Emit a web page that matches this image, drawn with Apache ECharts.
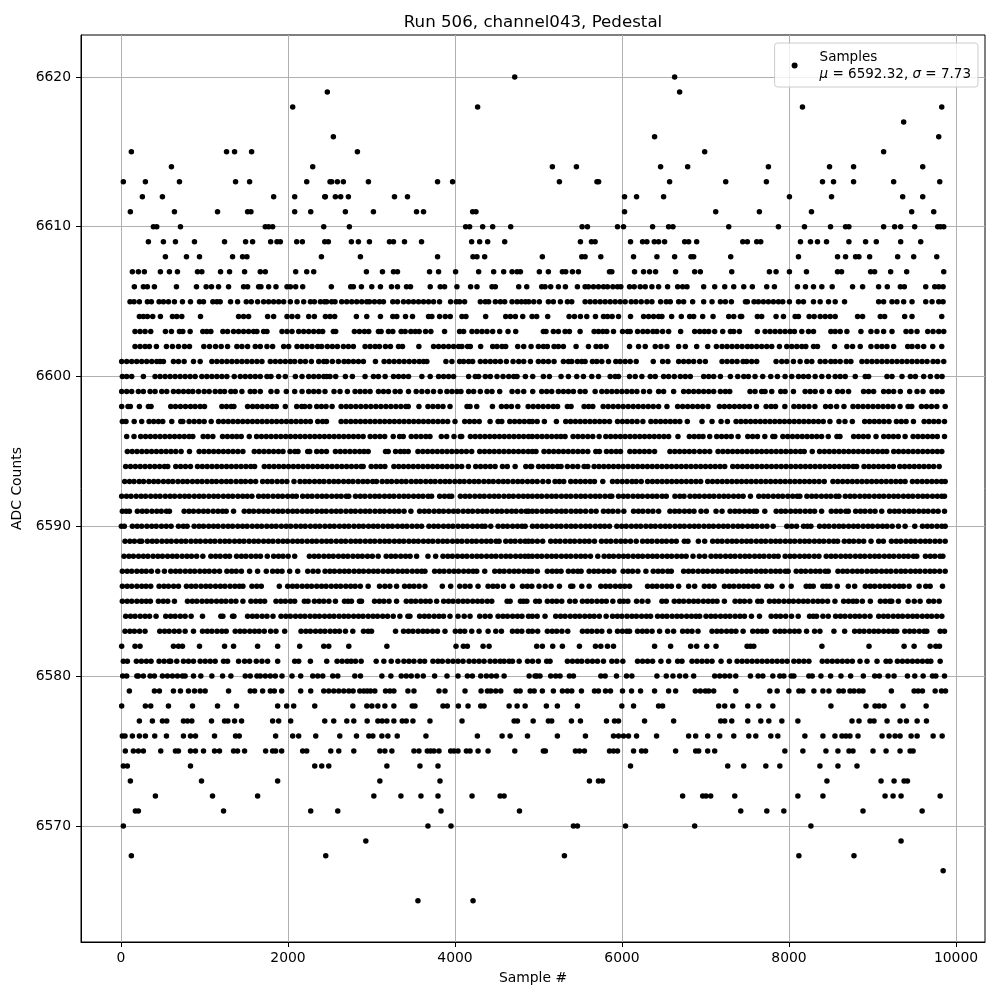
<!DOCTYPE html>
<html>
<head>
<meta charset="utf-8">
<title>Run 506, channel043, Pedestal</title>
<script src="https://cdn.jsdelivr.net/npm/echarts@6/dist/echarts.min.js"></script>
<style>
  html, body { margin: 0; padding: 0; background: #fff; }
  #chart { width: 1000px; height: 1000px; }
</style>
</head>
<body>
<div id="chart"></div>
<script>
// tick labels
const xTicks = [0, 2000, 4000, 6000, 8000, 10000];
const yTicks = [6570, 6580, 6590, 6600, 6610, 6620];

// sample numbers, one list per ADC level
const row6620 = [4715, 6630];
const row6619 = [2471, 6690];
const row6618 = [2056, 4271, 8161, 9829];
const row6617 = [9373];
const row6616 = [2543, 6390, 9793];
const row6615 = [124, 1264, 1360, 1564, 2831, 6990, 9133];
const row6614 = [604, 2296, 5166, 5454, 6462, 6786, 7753, 8485, 8773, 9601];
const row6613 = [28, 292, 700, 1372, 1540, 2224, 2503, 2523, 2591, 2663, 2963, 3791, 3971, 5250, 5700, 5720, 6570, 7242, 7729, 8401, 8533, 8773, 9253, 9805];
const row6612 = [256, 496, 1828, 2080, 2440, 2447, 2567, 2631, 2723, 3275, 3431, 6030, 6174, 6498, 8005, 8509, 9361, 9601];
const row6611 = [112, 640, 1156, 1516, 1556, 2080, 2272, 2687, 3023, 3539, 3623, 4211, 4251, 6030, 7122, 7645, 8269, 9469, 9733];
const row6610 = [388, 428, 712, 1728, 1768, 1816, 2428, 2735, 4127, 4175, 4331, 4451, 4667, 5522, 5586, 5946, 6018, 6366, 6558, 6610, 7278, 7873, 8185, 8497, 8677, 8717, 9133, 9265, 9337, 9505, 9781, 9813, 9853];
const row6609 = [328, 508, 652, 880, 1240, 1492, 1576, 1792, 1868, 1908, 2104, 2172, 2440, 2483, 2759, 2843, 2975, 3215, 3263, 3395, 3599, 4199, 4295, 4391, 4595, 5502, 5634, 5678, 6102, 6246, 6298, 6386, 6438, 6510, 6750, 6798, 6894, 7446, 7501, 7613, 7661, 8137, 8257, 8341, 8449, 8717, 8917, 9045, 9337, 9577];
const row6608 = [532, 784, 940, 1336, 1456, 1508, 2400, 2867, 3791, 4215, 4263, 4355, 5046, 5518, 5558, 5746, 6138, 6418, 6630, 6826, 6858, 7302, 8113, 8581, 8677, 8797, 8837, 8965, 9301, 9493, 9769];
const row6607 = [136, 208, 280, 472, 580, 676, 916, 968, 1192, 1300, 1480, 1668, 1728, 2092, 2224, 2308, 2939, 3131, 3263, 3311, 3695, 3803, 4007, 4283, 4463, 4583, 4683, 4743, 4783, 5010, 5118, 5286, 5326, 5406, 5478, 5850, 5878, 6150, 6258, 6330, 6402, 6642, 6870, 6938, 7314, 7765, 7845, 8005, 8209, 8581, 8629, 8977, 9025, 9217, 9409, 9853];
const row6606 = [160, 268, 316, 400, 664, 904, 1020, 1084, 1168, 1288, 1468, 1516, 1648, 1676, 1768, 1856, 1988, 2028, 2092, 2176, 2519, 2751, 2783, 2879, 3003, 3107, 3239, 3311, 3419, 3467, 3703, 3823, 3875, 4023, 4187, 4263, 4443, 4483, 4763, 4859, 5038, 5078, 5146, 5238, 5322, 5466, 5558, 5598, 5658, 5718, 5778, 5826, 5890, 5946, 5986, 6090, 6146, 6218, 6278, 6358, 6438, 6546, 6666, 6726, 6778, 6978, 7110, 7230, 7338, 7458, 7561, 7733, 7825, 8101, 8197, 8293, 8393, 8517, 8761, 8881, 9073, 9177, 9333, 9381, 9637, 9745, 9793, 9845];
const row6605 = [108, 156, 220, 316, 364, 456, 508, 568, 640, 736, 832, 940, 988, 1100, 1148, 1188, 1312, 1396, 1500, 1560, 1636, 1708, 1768, 1828, 1888, 1948, 2028, 2108, 2188, 2268, 2316, 2388, 2436, 2463, 2523, 2563, 2643, 2703, 2763, 2823, 2883, 2943, 2975, 3035, 3095, 3143, 3255, 3311, 3383, 3443, 3503, 3563, 3623, 3683, 3743, 3815, 3947, 4015, 4055, 4115, 4303, 4363, 4403, 4483, 4543, 4595, 4683, 4743, 4795, 4843, 4883, 4943, 5010, 5118, 5178, 5262, 5346, 5398, 5558, 5618, 5678, 5738, 5798, 5858, 5918, 5978, 6038, 6110, 6166, 6230, 6298, 6358, 6462, 6530, 6578, 6678, 6738, 6846, 6978, 7078, 7178, 7238, 7310, 7478, 7501, 7581, 7633, 7693, 7753, 7813, 7873, 7925, 8005, 8113, 8173, 8293, 8373, 8473, 8553, 8665, 9073, 9133, 9233, 9293, 9373, 9473, 9637, 9713, 9793, 9845];
const row6604 = [220, 268, 316, 380, 472, 616, 668, 728, 952, 1408, 1468, 1528, 1756, 1828, 1988, 2048, 2116, 2248, 2316, 2448, 2503, 2559, 2819, 2943, 3107, 3255, 3303, 3407, 3491, 3683, 3723, 3815, 3883, 3943, 4083, 4131, 4367, 4607, 4663, 4723, 4811, 4923, 4978, 5110, 5366, 5430, 5502, 5578, 5682, 5778, 5826, 5882, 5958, 6102, 6258, 6318, 6378, 6438, 6478, 6594, 6710, 6810, 6858, 6966, 7090, 7278, 7338, 7418, 7433, 7621, 7673, 7845, 7933, 8073, 8113, 8241, 8301, 8373, 8433, 8493, 8553, 8821, 8881, 9093, 9145, 9385, 9473, 9829];
const row6603 = [168, 228, 288, 356, 532, 604, 700, 740, 828, 980, 1028, 1076, 1220, 1276, 1348, 1408, 1468, 1528, 1588, 1628, 1708, 1748, 1928, 1988, 2048, 2128, 2188, 2248, 2308, 2368, 2415, 2543, 2571, 2795, 2855, 2915, 2967, 3083, 3115, 3203, 3255, 3355, 3403, 3471, 3523, 3571, 3647, 3711, 3875, 4055, 4103, 4203, 4263, 4323, 4383, 4451, 4535, 4635, 4727, 5058, 5090, 5178, 5238, 5318, 5370, 5498, 5666, 5718, 5770, 5818, 5898, 6006, 6066, 6098, 6186, 6250, 6306, 6370, 6418, 6486, 6558, 6702, 6870, 6930, 6986, 7038, 7110, 7206, 7298, 7338, 7406, 7621, 7713, 7773, 7833, 7893, 7953, 8013, 8065, 8153, 8233, 8293, 8501, 8553, 8613, 8693, 8861, 8981, 9053, 9133, 9233, 9401, 9461, 9533, 9661, 9725, 9793, 9853];
const row6602 = [168, 228, 288, 340, 424, 544, 616, 688, 760, 820, 992, 1060, 1132, 1200, 1276, 1388, 1448, 1516, 1608, 1668, 1748, 1816, 1948, 2008, 2108, 2168, 2228, 2288, 2356, 2403, 2471, 2531, 2591, 2663, 2723, 2783, 2923, 2983, 3043, 3095, 3167, 3227, 3323, 3371, 3567, 3743, 3803, 3863, 3923, 3983, 4043, 4083, 4151, 4183, 4307, 4451, 4503, 4563, 4607, 4751, 4823, 4911, 4998, 5058, 5106, 5186, 5238, 5298, 5450, 5598, 5690, 5746, 5810, 6090, 6198, 6278, 6398, 6466, 6538, 6678, 6758, 6894, 7026, 7130, 7198, 7258, 7318, 7378, 7438, 7501, 7553, 7613, 7673, 7733, 7793, 7885, 7973, 8033, 8093, 8153, 8201, 8293, 8341, 8545, 8693, 8761, 8853, 8981, 9053, 9113, 9173, 9253, 9421, 9473, 9541, 9613, 9721, 9829];
const row6601 = [8, 68, 128, 188, 248, 308, 368, 428, 468, 508, 628, 688, 756, 868, 948, 1088, 1148, 1208, 1268, 1328, 1388, 1448, 1508, 1568, 1628, 1688, 1788, 1848, 1908, 1968, 2028, 2080, 2148, 2208, 2280, 2368, 2428, 2463, 2531, 2603, 2671, 2723, 2783, 2843, 2903, 3047, 3151, 3211, 3271, 3331, 3391, 3451, 3511, 3571, 3623, 3663, 3891, 3963, 4055, 4103, 4163, 4211, 4303, 4363, 4423, 4483, 4543, 4615, 4695, 4763, 4823, 4903, 4998, 5058, 5118, 5186, 5298, 5358, 5398, 5466, 5518, 5558, 5646, 5698, 5758, 5838, 5926, 5978, 6038, 6098, 6170, 6374, 6486, 6550, 6678, 6738, 6798, 6858, 6930, 6998, 7198, 7258, 7318, 7378, 7450, 7493, 7553, 7613, 7845, 7913, 7973, 8053, 8133, 8213, 8273, 8373, 8433, 8501, 8553, 8613, 8685, 8741, 8873, 8933, 8993, 9053, 9113, 9173, 9233, 9293, 9353, 9413, 9473, 9533, 9593, 9653, 9725, 9781, 9853];
const row6600 = [16, 68, 128, 268, 408, 468, 528, 588, 648, 708, 768, 828, 888, 968, 1028, 1088, 1148, 1208, 1268, 1356, 1428, 1488, 1548, 1608, 1668, 1748, 1796, 1888, 1968, 2088, 2168, 2248, 2308, 2368, 2428, 2463, 2503, 2571, 2687, 2771, 2923, 3023, 3083, 3163, 3263, 3323, 3383, 3443, 3603, 3703, 3803, 3863, 3923, 3983, 4163, 4243, 4283, 4363, 4423, 4503, 4575, 4643, 4703, 4743, 4843, 4931, 5058, 5130, 5270, 5358, 5458, 5538, 5638, 5718, 5858, 5918, 5958, 6090, 6158, 6238, 6338, 6398, 6498, 6558, 6626, 6698, 6758, 6818, 6978, 7038, 7098, 7178, 7298, 7386, 7458, 7513, 7593, 7685, 7781, 7861, 7953, 8033, 8113, 8173, 8233, 8313, 8393, 8473, 8553, 8613, 8673, 8793, 8913, 8953, 9173, 9233, 9353, 9453, 9513, 9613, 9693, 9773, 9833];
const row6599 = [8, 68, 128, 208, 268, 348, 408, 488, 548, 628, 688, 748, 808, 860, 928, 996, 1056, 1128, 1188, 1240, 1316, 1368, 1448, 1548, 1600, 1668, 1796, 1868, 1980, 2080, 2168, 2248, 2308, 2368, 2443, 2551, 2623, 2711, 2803, 2863, 2923, 2983, 3083, 3143, 3203, 3283, 3343, 3443, 3535, 3603, 3671, 3743, 3823, 3903, 3963, 4023, 4071, 4163, 4223, 4303, 4383, 4443, 4535, 4683, 4751, 4823, 4931, 5038, 5098, 5158, 5238, 5298, 5358, 5418, 5498, 5558, 5678, 5758, 5818, 5878, 5938, 5998, 6058, 6118, 6178, 6258, 6330, 6438, 6498, 6618, 6738, 6798, 6858, 6918, 6978, 7038, 7098, 7178, 7238, 7290, 7533, 7593, 7673, 7713, 7793, 7901, 7953, 8053, 8193, 8253, 8313, 8393, 8485, 8581, 8641, 8713, 8893, 8953, 9013, 9133, 9193, 9253, 9333, 9445, 9533, 9605, 9713, 9773, 9833];
const row6598 = [8, 84, 112, 220, 328, 360, 596, 652, 712, 772, 832, 888, 948, 1000, 1208, 1264, 1320, 1352, 1516, 1576, 1632, 1692, 1752, 1812, 1860, 1968, 2104, 2164, 2200, 2260, 2344, 2400, 2456, 2528, 2636, 2696, 2752, 2812, 2872, 2932, 2992, 3052, 3112, 3172, 3232, 3292, 3352, 3412, 3440, 3568, 3676, 3736, 3796, 3856, 3940, 4144, 4180, 4260, 4448, 4556, 4616, 4676, 4752, 4876, 4936, 4996, 5056, 5116, 5176, 5228, 5346, 5390, 5546, 5600, 5650, 5774, 5834, 5894, 5954, 6014, 6074, 6134, 6194, 6254, 6314, 6374, 6438, 6538, 6666, 6726, 6786, 6846, 6906, 6966, 7030, 7166, 7226, 7286, 7346, 7406, 7466, 7526, 7610, 7726, 7786, 7838, 7950, 8058, 8118, 8178, 8238, 8310, 8438, 8498, 8570, 8658, 8766, 8826, 8886, 8946, 9006, 9066, 9126, 9186, 9246, 9330, 9426, 9470, 9586, 9646, 9706, 9770, 9870];
const row6597 = [16, 60, 158, 248, 336, 392, 448, 500, 608, 716, 740, 816, 876, 936, 996, 1080, 1168, 1226, 1284, 1342, 1400, 1458, 1516, 1574, 1632, 1690, 1748, 1806, 1864, 1922, 1980, 2038, 2096, 2154, 2212, 2268, 2356, 2414, 2460, 2636, 2694, 2752, 2810, 2868, 2926, 2984, 3042, 3100, 3158, 3216, 3274, 3332, 3390, 3448, 3506, 3564, 3622, 3680, 3738, 3796, 3854, 3912, 4000, 4116, 4174, 4232, 4290, 4420, 4516, 4560, 4656, 4714, 4772, 4830, 4888, 4926, 4984, 5070, 5214, 5326, 5384, 5442, 5500, 5558, 5616, 5674, 5732, 5790, 5850, 5946, 6004, 6062, 6120, 6180, 6250, 6346, 6404, 6462, 6520, 6578, 6636, 6692, 6782, 6958, 7078, 7186, 7262, 7366, 7424, 7482, 7540, 7598, 7656, 7714, 7772, 7830, 7888, 7946, 8004, 8062, 8120, 8178, 8236, 8294, 8352, 8410, 8490, 8598, 8670, 8758, 8906, 8964, 9022, 9080, 9138, 9198, 9286, 9344, 9402, 9490, 9618, 9676, 9734, 9792, 9862];
const row6596 = [68, 156, 236, 294, 352, 410, 468, 526, 584, 642, 700, 758, 816, 860, 984, 1040, 1100, 1216, 1274, 1332, 1386, 1440, 1536, 1624, 1682, 1740, 1798, 1856, 1914, 1972, 2030, 2088, 2146, 2204, 2262, 2320, 2378, 2436, 2494, 2552, 2610, 2668, 2726, 2784, 2842, 2900, 2984, 3042, 3100, 3158, 3260, 3336, 3380, 3476, 3534, 3592, 3650, 3700, 3836, 3900, 3988, 4064, 4080, 4184, 4242, 4300, 4358, 4416, 4474, 4532, 4590, 4648, 4706, 4764, 4822, 4880, 4926, 4984, 5042, 5100, 5158, 5216, 5268, 5318, 5414, 5472, 5530, 5590, 5650, 5726, 5806, 5864, 5922, 5980, 6038, 6096, 6154, 6212, 6270, 6328, 6386, 6444, 6502, 6558, 6670, 6806, 6864, 6920, 6970, 7050, 7134, 7192, 7250, 7308, 7390, 7506, 7564, 7622, 7710, 7806, 7830, 7926, 7984, 8042, 8100, 8158, 8216, 8274, 8332, 8390, 8470, 8574, 8610, 8774, 8832, 8890, 8948, 9042, 9134, 9192, 9250, 9308, 9390, 9486, 9544, 9602, 9660, 9718, 9776, 9862];
const row6595 = [76, 134, 192, 250, 308, 366, 424, 482, 540, 598, 656, 720, 820, 936, 994, 1052, 1110, 1168, 1226, 1284, 1342, 1400, 1460, 1596, 1654, 1712, 1770, 1828, 1886, 1940, 2024, 2082, 2120, 2236, 2260, 2344, 2402, 2460, 2568, 2626, 2684, 2742, 2800, 2858, 2910, 2960, 3168, 3200, 3288, 3346, 3392, 3440, 3556, 3614, 3672, 3730, 3788, 3846, 3904, 3962, 4020, 4078, 4136, 4200, 4296, 4354, 4412, 4470, 4528, 4586, 4644, 4702, 4760, 4818, 4876, 4926, 4970, 5066, 5124, 5182, 5240, 5298, 5356, 5414, 5472, 5530, 5590, 5686, 5730, 5814, 5872, 5930, 5982, 6094, 6152, 6210, 6268, 6326, 6390, 6574, 6632, 6690, 6748, 6806, 6864, 6930, 6990, 7050, 7150, 7208, 7266, 7324, 7382, 7440, 7498, 7556, 7614, 7672, 7730, 7788, 7846, 7904, 7962, 8020, 8078, 8136, 8182, 8278, 8366, 8424, 8482, 8540, 8598, 8656, 8714, 8772, 8830, 8888, 8946, 9004, 9062, 9120, 9170, 9254, 9312, 9370, 9428, 9486, 9544, 9602, 9660, 9718, 9776, 9830];
const row6594 = [56, 114, 172, 230, 288, 346, 404, 462, 520, 560, 656, 714, 772, 832, 916, 974, 1032, 1090, 1148, 1206, 1264, 1322, 1380, 1438, 1496, 1554, 1600, 1716, 1774, 1832, 1890, 1948, 2006, 2064, 2122, 2180, 2238, 2296, 2354, 2412, 2470, 2528, 2586, 2644, 2702, 2760, 2818, 2876, 2900, 2996, 3054, 3108, 3160, 3268, 3326, 3384, 3442, 3500, 3558, 3616, 3674, 3732, 3790, 3848, 3906, 3964, 4022, 4080, 4160, 4248, 4306, 4364, 4422, 4480, 4568, 4626, 4720, 4848, 4906, 4918, 5000, 5058, 5116, 5170, 5228, 5270, 5346, 5410, 5470, 5546, 5590, 5666, 5724, 5782, 5840, 5898, 5956, 6014, 6072, 6130, 6188, 6246, 6304, 6362, 6420, 6478, 6536, 6594, 6652, 6710, 6768, 6826, 6884, 6942, 7000, 7058, 7116, 7174, 7230, 7326, 7384, 7442, 7500, 7558, 7616, 7674, 7732, 7790, 7848, 7906, 7964, 8022, 8080, 8138, 8196, 8254, 8312, 8370, 8428, 8486, 8544, 8602, 8660, 8710, 8768, 8810, 8898, 8956, 9014, 9072, 9130, 9190, 9250, 9326, 9384, 9442, 9500, 9558, 9616, 9674, 9732, 9798];
const row6593 = [44, 102, 156, 218, 270, 334, 392, 446, 508, 566, 620, 682, 740, 794, 856, 914, 970, 1030, 1088, 1142, 1204, 1262, 1316, 1378, 1436, 1490, 1552, 1612, 1696, 1754, 1808, 1870, 1928, 1986, 2072, 2144, 2202, 2256, 2318, 2376, 2430, 2492, 2550, 2604, 2666, 2724, 2778, 2840, 2898, 2952, 3014, 3060, 3128, 3186, 3240, 3302, 3360, 3414, 3476, 3534, 3588, 3650, 3708, 3762, 3824, 3882, 3936, 3998, 4056, 4110, 4172, 4230, 4284, 4346, 4404, 4458, 4520, 4578, 4632, 4694, 4752, 4806, 4868, 4926, 4984, 5052, 5118, 5198, 5250, 5302, 5386, 5444, 5502, 5560, 5618, 5670, 5770, 5886, 5944, 6002, 6060, 6120, 6170, 6230, 6306, 6364, 6422, 6480, 6538, 6596, 6654, 6712, 6770, 6828, 6886, 6942, 7026, 7084, 7142, 7200, 7258, 7316, 7374, 7432, 7490, 7548, 7606, 7664, 7722, 7780, 7838, 7896, 7954, 8012, 8070, 8128, 8186, 8244, 8302, 8360, 8422, 8526, 8584, 8642, 8700, 8758, 8816, 8874, 8932, 8990, 9048, 9106, 9164, 9222, 9280, 9336, 9390, 9478, 9536, 9594, 9652, 9710, 9768, 9826, 9870];
const row6592 = [8, 66, 120, 182, 240, 294, 356, 414, 468, 530, 588, 642, 704, 762, 816, 878, 936, 990, 1052, 1110, 1164, 1226, 1284, 1338, 1400, 1458, 1512, 1568, 1648, 1706, 1760, 1822, 1880, 1934, 1996, 2054, 2100, 2176, 2234, 2288, 2350, 2408, 2462, 2524, 2582, 2636, 2698, 2728, 2808, 2866, 2920, 2982, 3040, 3094, 3156, 3214, 3268, 3330, 3388, 3442, 3504, 3562, 3616, 3678, 3720, 3816, 3874, 3928, 3960, 4064, 4122, 4176, 4238, 4296, 4350, 4412, 4470, 4524, 4586, 4644, 4698, 4760, 4818, 4872, 4926, 4984, 5038, 5100, 5158, 5212, 5274, 5332, 5386, 5448, 5506, 5560, 5622, 5680, 5734, 5796, 5854, 5878, 5958, 6016, 6070, 6132, 6190, 6244, 6306, 6364, 6418, 6480, 6530, 6634, 6692, 6742, 6814, 6872, 6926, 6988, 7046, 7100, 7162, 7220, 7274, 7336, 7394, 7450, 7538, 7638, 7696, 7750, 7812, 7870, 7924, 7986, 8044, 8098, 8130, 8214, 8272, 8326, 8388, 8446, 8500, 8562, 8598, 8674, 8732, 8786, 8848, 8906, 8960, 9022, 9080, 9134, 9196, 9254, 9308, 9370, 9428, 9482, 9544, 9602, 9656, 9718, 9776, 9830, 9862];
const row6591 = [16, 62, 100, 196, 254, 308, 370, 428, 482, 544, 580, 756, 814, 868, 930, 988, 1042, 1104, 1162, 1216, 1260, 1348, 1476, 1534, 1588, 1650, 1708, 1762, 1824, 1882, 1936, 1998, 2056, 2110, 2172, 2230, 2284, 2346, 2404, 2458, 2520, 2578, 2632, 2694, 2752, 2806, 2868, 2926, 2980, 3042, 3100, 3154, 3216, 3274, 3328, 3390, 3472, 3576, 3634, 3688, 3750, 3808, 3862, 3924, 3982, 4036, 4098, 4156, 4210, 4272, 4330, 4384, 4446, 4504, 4558, 4620, 4678, 4732, 4794, 4852, 4880, 4926, 4980, 5042, 5100, 5154, 5216, 5274, 5328, 5390, 5448, 5502, 5564, 5630, 5690, 5778, 5836, 5890, 5952, 6022, 6138, 6196, 6250, 6312, 6370, 6438, 6574, 6632, 6686, 6748, 6806, 6862, 6946, 7010, 7126, 7198, 7294, 7352, 7406, 7468, 7526, 7580, 7610, 7710, 7846, 7904, 7958, 8020, 8078, 8132, 8194, 8252, 8306, 8390, 8506, 8564, 8618, 8680, 8710, 8798, 8856, 8910, 8972, 9030, 9110, 9206, 9264, 9318, 9380, 9438, 9492, 9554, 9612, 9666, 9728, 9786, 9862];
const row6590 = [4, 40, 136, 194, 248, 310, 368, 422, 484, 542, 600, 688, 746, 792, 876, 934, 988, 1050, 1108, 1162, 1224, 1282, 1336, 1398, 1456, 1510, 1572, 1630, 1684, 1746, 1804, 1858, 1920, 1978, 2032, 2094, 2152, 2206, 2268, 2326, 2380, 2442, 2500, 2554, 2616, 2674, 2728, 2790, 2848, 2902, 2964, 3022, 3076, 3138, 3196, 3250, 3312, 3370, 3424, 3486, 3544, 3600, 3688, 3746, 3800, 3862, 3920, 3974, 4036, 4094, 4148, 4210, 4268, 4322, 4360, 4428, 4516, 4574, 4628, 4690, 4748, 4802, 4840, 4928, 4984, 5042, 5096, 5158, 5216, 5270, 5332, 5390, 5444, 5506, 5564, 5618, 5680, 5738, 5792, 5850, 5938, 5996, 6050, 6112, 6170, 6224, 6286, 6344, 6398, 6460, 6518, 6572, 6634, 6692, 6746, 6808, 6866, 6920, 6982, 7040, 7094, 7156, 7214, 7268, 7330, 7388, 7442, 7504, 7562, 7616, 7678, 7736, 7810, 7974, 8032, 8090, 8174, 8220, 8262, 8366, 8424, 8478, 8540, 8598, 8652, 8714, 8772, 8826, 8888, 8946, 9000, 9062, 9120, 9174, 9236, 9310, 9390, 9506, 9598, 9656, 9710, 9772, 9830, 9870];
const row6589 = [48, 106, 160, 222, 248, 316, 374, 428, 490, 548, 602, 664, 722, 776, 838, 896, 950, 1012, 1070, 1124, 1186, 1244, 1298, 1360, 1418, 1472, 1534, 1592, 1646, 1708, 1766, 1820, 1882, 1940, 1994, 2056, 2114, 2168, 2230, 2288, 2342, 2404, 2462, 2516, 2578, 2636, 2690, 2752, 2810, 2864, 2926, 2984, 3038, 3100, 3158, 3212, 3274, 3332, 3386, 3448, 3506, 3560, 3622, 3680, 3734, 3796, 3854, 3908, 3970, 4028, 4082, 4144, 4202, 4256, 4318, 4376, 4430, 4492, 4528, 4608, 4666, 4720, 4782, 4840, 4880, 4926, 4986, 5050, 5146, 5204, 5258, 5320, 5378, 5432, 5494, 5552, 5606, 5670, 5754, 5812, 5866, 5928, 5986, 6040, 6102, 6170, 6246, 6304, 6358, 6420, 6478, 6532, 6594, 6650, 6746, 6790, 6914, 6990, 7086, 7144, 7198, 7260, 7318, 7372, 7434, 7492, 7546, 7608, 7666, 7720, 7782, 7840, 7894, 7956, 8014, 8068, 8130, 8188, 8242, 8304, 8362, 8416, 8478, 8536, 8582, 8662, 8720, 8774, 8836, 8894, 8982, 9074, 9130, 9226, 9284, 9338, 9400, 9458, 9512, 9574, 9632, 9686, 9748, 9806, 9870];
const row6588 = [36, 94, 148, 210, 268, 322, 384, 442, 496, 558, 616, 670, 732, 790, 844, 906, 980, 1076, 1134, 1188, 1250, 1300, 1384, 1442, 1496, 1558, 1616, 1670, 1752, 1828, 1886, 1940, 2002, 2080, 2256, 2314, 2368, 2430, 2488, 2542, 2604, 2662, 2716, 2778, 2836, 2890, 2952, 3010, 3080, 3176, 3234, 3288, 3350, 3408, 3462, 3540, 3676, 3768, 3856, 3914, 3968, 4030, 4088, 4142, 4204, 4262, 4316, 4378, 4436, 4490, 4552, 4610, 4664, 4726, 4784, 4838, 4880, 4926, 4984, 5038, 5100, 5158, 5212, 5274, 5332, 5386, 5448, 5506, 5560, 5622, 5710, 5786, 5844, 5898, 5960, 6018, 6072, 6134, 6192, 6246, 6308, 6366, 6420, 6482, 6540, 6594, 6656, 6714, 6768, 6850, 6926, 6990, 7066, 7124, 7178, 7240, 7298, 7352, 7414, 7472, 7526, 7588, 7646, 7700, 7762, 7820, 7870, 7954, 8012, 8066, 8128, 8186, 8240, 8302, 8358, 8446, 8504, 8558, 8620, 8678, 8732, 8794, 8852, 8906, 8968, 9026, 9080, 9142, 9200, 9254, 9316, 9374, 9428, 9490, 9530, 9634, 9692, 9746, 9808, 9842];
const row6587 = [16, 74, 128, 190, 248, 302, 364, 440, 520, 596, 654, 708, 770, 828, 882, 944, 1002, 1056, 1118, 1180, 1268, 1326, 1380, 1442, 1540, 1636, 1740, 1816, 1874, 1928, 2020, 2116, 2236, 2300, 2360, 2444, 2502, 2556, 2618, 2676, 2730, 2792, 2850, 2904, 2966, 3024, 3078, 3140, 3198, 3252, 3314, 3372, 3426, 3488, 3546, 3600, 3640, 3756, 3814, 3868, 3930, 3988, 4042, 4104, 4162, 4216, 4260, 4356, 4476, 4534, 4588, 4650, 4708, 4762, 4824, 4880, 4920, 4986, 5106, 5164, 5218, 5270, 5358, 5416, 5470, 5510, 5606, 5664, 5718, 5780, 5838, 5902, 6014, 6072, 6126, 6190, 6286, 6374, 6432, 6486, 6548, 6590, 6738, 6796, 6850, 6912, 6970, 7024, 7086, 7144, 7198, 7260, 7318, 7372, 7434, 7492, 7546, 7608, 7666, 7720, 7782, 7840, 7894, 7956, 7990, 8086, 8144, 8198, 8260, 8318, 8372, 8434, 8470, 8586, 8644, 8698, 8760, 8818, 8872, 8934, 8992, 9046, 9108, 9166, 9220, 9282, 9340, 9394, 9456, 9514, 9568, 9630, 9688, 9742, 9804, 9870];
const row6586 = [16, 74, 128, 190, 248, 300, 356, 456, 514, 568, 630, 688, 784, 842, 896, 958, 1016, 1070, 1132, 1190, 1244, 1306, 1364, 1418, 1460, 1568, 1626, 1680, 1896, 1996, 2054, 2108, 2170, 2228, 2282, 2344, 2402, 2456, 2518, 2576, 2630, 2692, 2750, 2804, 2866, 2960, 3096, 3160, 3220, 3300, 3396, 3454, 3508, 3570, 3640, 3848, 3948, 4056, 4120, 4180, 4276, 4396, 4454, 4508, 4580, 4688, 4808, 4866, 4920, 5006, 5080, 5150, 5250, 5386, 5410, 5518, 5606, 5746, 5804, 5858, 5920, 5978, 6032, 6090, 6306, 6364, 6418, 6480, 6538, 6592, 6678, 6798, 6870, 6986, 7044, 7102, 7226, 7284, 7338, 7400, 7458, 7512, 7574, 7630, 7734, 7790, 7918, 8026, 8206, 8250, 8290, 8406, 8450, 8490, 8578, 8710, 8786, 8914, 8972, 9026, 9088, 9146, 9200, 9262, 9320, 9370, 9438, 9558, 9638, 9690, 9838];
const row6585 = [16, 74, 128, 190, 248, 302, 352, 448, 506, 560, 640, 796, 854, 908, 970, 1028, 1082, 1144, 1202, 1256, 1318, 1376, 1460, 1556, 1614, 1668, 1720, 1856, 1914, 1968, 2030, 2080, 2196, 2240, 2316, 2374, 2428, 2490, 2568, 2676, 2720, 2760, 2856, 2880, 3036, 3094, 3148, 3210, 3300, 3416, 3474, 3528, 3590, 3648, 3702, 3780, 3864, 3922, 3976, 4038, 4096, 4150, 4212, 4270, 4324, 4386, 4440, 4624, 4660, 4784, 4820, 4860, 4966, 5010, 5106, 5164, 5218, 5278, 5374, 5438, 5526, 5584, 5638, 5700, 5758, 5812, 5890, 5974, 6020, 6070, 6174, 6240, 6310, 6478, 6530, 6626, 6684, 6738, 6800, 6858, 6912, 6974, 7032, 7086, 7138, 7226, 7354, 7412, 7466, 7530, 7626, 7670, 7766, 7824, 7878, 7940, 7998, 8052, 8114, 8172, 8226, 8288, 8346, 8400, 8462, 8550, 8654, 8712, 8766, 8810, 8878, 8974, 9094, 9152, 9206, 9230, 9310, 9426, 9500, 9570, 9674, 9732, 9798];
const row6584 = [56, 114, 168, 230, 288, 342, 420, 536, 594, 648, 710, 768, 840, 976, 1196, 1220, 1336, 1352, 1516, 1574, 1628, 1690, 1748, 1820, 1916, 1974, 2028, 2090, 2148, 2202, 2264, 2322, 2376, 2438, 2496, 2550, 2612, 2670, 2724, 2786, 2844, 2898, 2960, 3018, 3072, 3134, 3192, 3260, 3340, 3436, 3460, 3576, 3634, 3688, 3750, 3808, 3862, 3940, 4036, 4110, 4180, 4296, 4360, 4420, 4516, 4574, 4628, 4690, 4748, 4802, 4880, 4926, 4984, 5078, 5206, 5264, 5318, 5380, 5438, 5492, 5554, 5612, 5666, 5728, 5810, 5886, 5944, 5998, 6060, 6118, 6172, 6234, 6292, 6342, 6426, 6484, 6538, 6600, 6658, 6712, 6774, 6832, 6886, 6930, 7006, 7064, 7118, 7180, 7238, 7292, 7354, 7412, 7466, 7550, 7646, 7786, 7844, 7898, 7960, 8030, 8110, 8246, 8290, 8330, 8406, 8470, 8558, 8616, 8670, 8732, 8790, 8844, 8906, 8970, 9074, 9132, 9186, 9248, 9306, 9360, 9422, 9480, 9534, 9596, 9654, 9708, 9770, 9830];
const row6583 = [48, 106, 160, 222, 288, 464, 522, 576, 638, 696, 768, 868, 976, 1034, 1088, 1150, 1208, 1260, 1368, 1426, 1480, 1542, 1600, 1654, 1716, 1792, 1856, 1960, 2156, 2214, 2268, 2330, 2388, 2442, 2504, 2562, 2616, 2688, 2776, 2904, 2960, 3000, 3288, 3384, 3442, 3496, 3558, 3616, 3670, 3732, 3790, 3880, 4004, 4062, 4116, 4200, 4288, 4396, 4488, 4556, 4688, 4746, 4800, 4880, 4926, 4990, 5106, 5164, 5218, 5280, 5350, 5526, 5584, 5638, 5700, 5758, 5850, 5946, 6004, 6058, 6090, 6186, 6244, 6298, 6360, 6450, 6546, 6618, 6726, 6784, 6838, 6910, 7078, 7136, 7190, 7252, 7310, 7364, 7450, 7566, 7624, 7678, 7730, 7834, 7892, 7946, 8008, 8066, 8120, 8210, 8306, 8370, 8538, 8666, 8786, 8844, 8898, 8960, 9018, 9072, 9134, 9192, 9246, 9290, 9386, 9444, 9498, 9560, 9618, 9650, 9810, 9862];
const row6582 = [8, 168, 228, 628, 688, 736, 940, 1240, 1348, 1636, 1876, 2140, 2428, 2488, 2728, 3184, 4012, 4100, 4148, 4336, 4408, 4978, 5046, 5170, 5286, 5490, 5682, 5746, 5826, 5898, 6390, 6582, 6822, 6894, 7014, 7126, 7498, 7538, 7578, 8394, 8958, 9378, 9498, 9690, 9758, 9802];
const row6581 = [28, 76, 184, 244, 304, 360, 456, 516, 576, 596, 668, 748, 808, 868, 948, 1008, 1068, 1128, 1228, 1276, 1408, 1480, 1540, 1620, 1688, 1756, 1876, 2080, 2128, 2268, 2464, 2588, 2648, 2708, 2756, 2808, 2876, 3056, 3148, 3236, 3316, 3388, 3448, 3508, 3580, 3636, 3736, 3796, 3848, 3916, 3976, 4036, 4096, 4168, 4228, 4288, 4348, 4420, 4480, 4540, 4588, 4648, 4688, 4768, 4868, 4928, 4998, 5098, 5138, 5346, 5406, 5466, 5518, 5586, 5646, 5706, 5778, 5878, 5938, 6010, 6186, 6246, 6306, 6366, 6466, 6558, 6666, 6718, 6838, 6898, 6958, 7018, 7078, 7186, 7286, 7378, 7438, 7498, 7558, 7618, 7678, 7738, 7798, 7858, 7918, 7978, 8058, 8118, 8178, 8238, 8398, 8458, 8518, 8578, 8638, 8698, 8758, 8850, 8934, 9054, 9162, 9210, 9298, 9358, 9418, 9478, 9538, 9598, 9658, 9698, 9810];
const row6580 = [20, 68, 190, 208, 268, 348, 400, 496, 556, 616, 676, 736, 768, 868, 956, 1088, 1216, 1316, 1488, 1548, 1628, 1668, 1728, 1788, 1848, 1928, 2048, 2152, 2296, 2356, 2416, 2536, 2596, 2800, 2868, 3124, 3232, 3356, 3416, 3476, 3548, 3620, 3756, 3904, 4036, 4148, 4208, 4308, 4376, 4436, 4496, 4588, 4888, 4980, 4958, 5018, 5146, 5206, 5258, 5370, 5418, 5746, 5798, 5934, 6054, 6118, 6418, 6530, 6610, 6690, 6762, 6858, 7110, 7170, 7230, 7290, 7362, 7538, 7630, 7686, 7806, 7890, 7938, 8026, 8058, 8238, 8278, 8382, 8498, 8622, 8738, 8890, 9026, 9082, 9186, 9258, 9418, 9506, 9606, 9718, 9758, 9862];
const row6579 = [100, 400, 460, 628, 712, 808, 880, 948, 1008, 1288, 1548, 1600, 1696, 1788, 1836, 1924, 2152, 2272, 2428, 2488, 2548, 2608, 2668, 2728, 2780, 2860, 2908, 2948, 2988, 3040, 3168, 3220, 3268, 3436, 3508, 3808, 3880, 4120, 4312, 4388, 4428, 4488, 4548, 4732, 4780, 4900, 4948, 5046, 5178, 5286, 5346, 5398, 5514, 5670, 5718, 5802, 5862, 6006, 6114, 6222, 6390, 6558, 6642, 6878, 6938, 6998, 7038, 7098, 7362, 7770, 7858, 7998, 8118, 8166, 8298, 8406, 8478, 8598, 8650, 8730, 8778, 8838, 8886, 9226, 9498, 9546, 9598, 9750, 9826, 9874];
const row6578 = [8, 292, 356, 568, 856, 1156, 1384, 1876, 1984, 2068, 2320, 2776, 2944, 3004, 3076, 3160, 3268, 3488, 3520, 3856, 3908, 4040, 4156, 4308, 4348, 4648, 4744, 4840, 5094, 5226, 5466, 5998, 6138, 6438, 6486, 7158, 7230, 7326, 7506, 7638, 7806, 8502, 8922, 9030, 9078, 9138, 9366, 9642];
const row6577 = [220, 376, 496, 548, 748, 796, 848, 1084, 1240, 1280, 1360, 1444, 1816, 1888, 2032, 2440, 2548, 2704, 2788, 2948, 3076, 3128, 3184, 3268, 3368, 3416, 3496, 3700, 4084, 4708, 4748, 4936, 5118, 5158, 5394, 5502, 5814, 5910, 5958, 6270, 6618, 7182, 7230, 7314, 7506, 7662, 7758, 7914, 8106, 8754, 8838, 8970, 9018, 9174, 9330, 9406, 9534, 9646];
const row6576 = [16, 48, 136, 220, 292, 404, 544, 748, 832, 892, 1120, 1372, 1416, 1852, 2056, 2128, 2332, 2620, 2820, 2968, 3016, 3124, 3196, 3308, 3652, 4268, 4564, 4660, 4868, 5226, 5562, 5898, 5958, 6018, 6078, 6174, 6414, 6798, 6882, 7026, 7170, 7338, 7518, 7602, 7782, 7866, 8190, 8406, 8550, 8634, 8682, 8730, 8826, 9114, 9198, 9270, 9330, 9462, 9534, 9726, 9834];
const row6575 = [52, 148, 208, 268, 476, 652, 688, 832, 892, 988, 1120, 1180, 1348, 1396, 1480, 1732, 1816, 1852, 1924, 2176, 2224, 2512, 2608, 2788, 3100, 3160, 3244, 3508, 3568, 3668, 3708, 3748, 3808, 3948, 3988, 4036, 4136, 4180, 4276, 4396, 4716, 5058, 5082, 5442, 5490, 5550, 5850, 5898, 5946, 6138, 6234, 6282, 6642, 6882, 6918, 7026, 7110, 7950, 8166, 8442, 8586, 8718, 8766, 9006, 9162, 9330, 9450, 9486];
const row6574 = [28, 76, 832, 2320, 2404, 2488, 3184, 3580, 3796, 6102, 7266, 7458, 7722, 7890, 8370, 8586, 8814];
const row6573 = [112, 964, 1876, 3100, 3820, 5610, 5718, 5766, 8454, 9102, 9258, 9378, 9418];
const row6572 = [412, 1096, 1636, 3028, 3352, 3592, 3796, 4204, 4540, 4588, 6726, 6966, 7006, 7062, 7350, 8106, 8406, 9150, 9246, 9342, 9810];
const row6571 = [172, 208, 1228, 2272, 2596, 3832, 4772, 7422, 7734, 7938, 8886, 9594];
const row6570 = [28, 3676, 3952, 5418, 5466, 6042, 6870, 8262];
const row6569 = [2932, 9342];
const row6568 = [124, 2452, 5310, 8118, 8778];
const row6567 = [9846];
const row6565 = [3556, 4216];

const levels = [6620, 6619, 6618, 6617, 6616, 6615, 6614, 6613, 6612, 6611, 6610, 6609, 6608, 6607, 6606, 6605, 6604, 6603, 6602, 6601, 6600, 6599, 6598, 6597, 6596, 6595, 6594, 6593, 6592, 6591, 6590, 6589, 6588, 6587, 6586, 6585, 6584, 6583, 6582, 6581, 6580, 6579, 6578, 6577, 6576, 6575, 6574, 6573, 6572, 6571, 6570, 6569, 6568, 6567, 6565];
const rows = [row6620, row6619, row6618, row6617, row6616, row6615, row6614, row6613, row6612, row6611, row6610, row6609, row6608, row6607, row6606, row6605, row6604, row6603, row6602, row6601, row6600, row6599, row6598, row6597, row6596, row6595, row6594, row6593, row6592, row6591, row6590, row6589, row6588, row6587, row6586, row6585, row6584, row6583, row6582, row6581, row6580, row6579, row6578, row6577, row6576, row6575, row6574, row6573, row6572, row6571, row6570, row6569, row6568, row6567, row6565];

const points = [];
rows.forEach((row, i) => row.forEach(s => points.push([s, levels[i]])));

const chart = echarts.init(document.getElementById('chart'), null, { renderer: 'canvas' });
const font = '"DejaVu Sans"';
chart.setOption({
  animation: false,
  backgroundColor: '#fff',
  textStyle: { fontFamily: font },
  title: {
    text: 'Run 506, channel043, Pedestal',
    left: 528, top: 9, textAlign: 'center',
    textStyle: { fontFamily: font, fontSize: 16.67, fontWeight: 'normal', color: '#000' }
  },
  legend: {
    show: true, right: 22, top: 43,
    orient: 'vertical',
    itemWidth: 6, itemHeight: 6,
    icon: 'circle',
    padding: [7, 7, 6, 17],
    backgroundColor: 'rgba(255,255,255,0.8)',
    borderColor: '#ccc', borderWidth: 1, borderRadius: 3,
    formatter: () => '{a|Samples}\n{i|μ}{a| = 6592.32, }{i|σ}{a| = 7.73}',
    textStyle: {
      padding: [0, 0, 0, 17],
      rich: {
        a: { fontFamily: font, fontSize: 13.5, color: '#000', lineHeight: 17 },
        i: { fontFamily: font, fontSize: 13.5, fontStyle: 'italic', color: '#000', lineHeight: 17 }
      }
    }
  },
  grid: { left: 81, right: 15, top: 35, bottom: 58, show: true, borderColor: '#000', borderWidth: 1 },
  xAxis: {
    type: 'value', min: -479, max: 10347,
    name: 'Sample #', nameLocation: 'middle', nameGap: 29,
    nameTextStyle: { fontFamily: font, fontSize: 13.9, color: '#000' },
    axisLine: { show: true, onZero: false, lineStyle: { color: '#000' } },
    axisTick: { show: true, length: 5, lineStyle: { color: '#000' }, customValues: xTicks },
    axisLabel: { color: '#000', fontFamily: font, fontSize: 13.9, margin: 9, customValues: xTicks, formatter: v => String(v) },
    splitLine: { show: true, lineStyle: { color: '#b0b0b0', width: 1 } }
  },
  yAxis: {
    type: 'value', min: 6562.25, max: 6622.8,
    name: 'ADC Counts', nameLocation: 'middle', nameGap: 50, nameRotate: 90,
    nameTextStyle: { fontFamily: font, fontSize: 13.9, color: '#000' },
    axisLine: { show: true, onZero: false, lineStyle: { color: '#000' } },
    axisTick: { show: true, length: 5, lineStyle: { color: '#000' }, customValues: yTicks },
    axisLabel: { color: '#000', fontFamily: font, fontSize: 13.9, margin: 10, customValues: yTicks, formatter: v => String(v) },
    splitLine: { show: true, lineStyle: { color: '#b0b0b0', width: 1 } }
  },
  series: [{
    name: 'Samples',
    type: 'scatter',
    data: points,
    symbol: 'circle',
    symbolSize: 5.5,
    itemStyle: { color: '#000', opacity: 1 },
    progressive: 0,
    silent: true
  }]
});
</script>
</body>
</html>
